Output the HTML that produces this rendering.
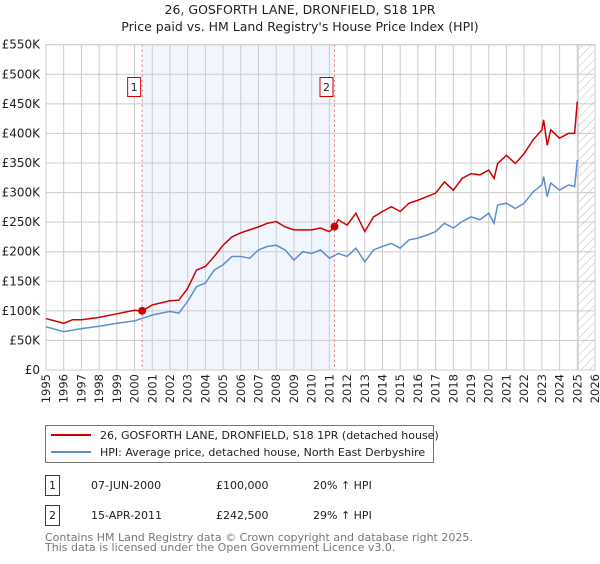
<!DOCTYPE html>
<html><head><meta charset="utf-8">
<style>
body{margin:0;background:#fff;font-family:"DejaVu Sans","Liberation Sans",sans-serif;}
svg text{font-family:"DejaVu Sans","Liberation Sans",sans-serif;}
</style></head>
<body>
<svg width="600" height="560" viewBox="0 0 600 560" xmlns="http://www.w3.org/2000/svg">
<defs>
<pattern id="hatch" patternUnits="userSpaceOnUse" width="6" height="6" patternTransform="rotate(45)">
<line x1="0" y1="0" x2="0" y2="6" stroke="#bbb" stroke-width="1"/></pattern>
</defs>
<text x="300" y="14" text-anchor="middle" font-size="12.5" fill="#222">26, GOSFORTH LANE, DRONFIELD, S18 1PR</text>
<text x="300" y="31" text-anchor="middle" font-size="12.5" fill="#222">Price paid vs. HM Land Registry's House Price Index (HPI)</text>
<g id="plot"></g>
<g>
<rect x="45.5" y="425.5" width="388" height="37" fill="#fff" stroke="#777"/>
<line x1="51" y1="435" x2="91" y2="435" stroke="#cc0000" stroke-width="2"/>
<text x="100" y="439" font-size="11" fill="#222">26, GOSFORTH LANE, DRONFIELD, S18 1PR (detached house)</text>
<line x1="51" y1="452" x2="91" y2="452" stroke="#5b8fd0" stroke-width="2"/>
<text x="100" y="456" font-size="11" fill="#222">HPI: Average price, detached house, North East Derbyshire</text>
</g>
<g font-size="11" fill="#222">
<rect x="45.5" y="475.5" width="14" height="20" fill="#fff" stroke="#cc0000"/>
<text x="52.5" y="489" text-anchor="middle">1</text>
<text x="91" y="489">07-JUN-2000</text>
<text x="216" y="489">£100,000</text>
<text x="313" y="489">20% ↑ HPI</text>
<rect x="45.5" y="505.5" width="14" height="20" fill="#fff" stroke="#cc0000"/>
<text x="52.5" y="519" text-anchor="middle">2</text>
<text x="91" y="519">15-APR-2011</text>
<text x="216" y="519">£242,500</text>
<text x="313" y="519">29% ↑ HPI</text>
</g>
<text x="45" y="541" font-size="11" fill="#777">Contains HM Land Registry data © Crown copyright and database right 2025.</text>
<text x="45" y="551" font-size="11" fill="#777">This data is licensed under the Open Government Licence v3.0.</text>
</svg>
<script>
const yTicks=[0,50,100,150,200,250,300,350,400,450,500,550];
const yTickLabels=["£0","£50K","£100K","£150K","£200K","£250K","£300K","£350K","£400K","£450K","£500K","£550K"];
const years=[1995,1996,1997,1998,1999,2000,2001,2002,2003,2004,2005,2006,2007,2008,2009,2010,2011,2012,2013,2014,2015,2016,2017,2018,2019,2020,2021,2022,2023,2024,2025,2026];
const propDates=[1995,1996,1996.5,1997,1998,1999,2000,2000.43,2001,2002,2002.5,2003,2003.5,2004,2004.5,2005,2005.5,2006,2007,2007.5,2008,2008.5,2009,2009.5,2010,2010.5,2011,2011.29,2011.5,2012,2012.5,2013,2013.5,2014,2014.5,2015,2015.5,2016,2016.5,2017,2017.5,2018,2018.5,2019,2019.5,2020,2020.3,2020.5,2021,2021.5,2022,2022.5,2023,2023.1,2023.3,2023.5,2024,2024.5,2024.85,2025];
const propValues=[87,79,85,85,89,95,101,100,110,117,118,138,169,175,192,211,225,232,242,248,251,242,237,237,237,240,234,242.5,254,245,265,234,259,268,276,268,282,287,293,299,318,304,324,332,330,338,324,349,363,349,366,389,406,423,380,406,392,400,400,454];
const hpiDates=[1995,1996,1997,1998,1999,2000,2001,2002,2002.5,2003,2003.5,2004,2004.5,2005,2005.5,2006,2006.5,2007,2007.5,2008,2008.5,2009,2009.5,2010,2010.5,2011,2011.5,2012,2012.5,2013,2013.5,2014,2014.5,2015,2015.5,2016,2016.5,2017,2017.5,2018,2018.5,2019,2019.5,2020,2020.3,2020.5,2021,2021.5,2022,2022.5,2023,2023.1,2023.3,2023.5,2024,2024.5,2024.85,2025];
const hpiValues=[73,65,70,74,79,83,93,99,96,116,141,147,169,178,192,192,189,203,209,211,203,186,200,197,203,189,197,192,206,183,203,209,214,206,220,223,228,234,248,240,251,259,254,265,248,279,282,273,282,301,313,327,293,316,304,313,310,355];
const saleDates=[2000.43,2011.29];
const saleValues=[100,242.5];
const saleLabels=["1","2"];
const shadeRange=[2000.43,2011.29];
const forecastStart=2025.05;

const L=46,R=595,T=44.7,B=370;
const x=d=>L+(d-1995)*(R-L)/31;
const y=v=>B-v*(B-T)/550;
const NS="http://www.w3.org/2000/svg";
const g=document.getElementById('plot');
function mk(tag,attrs,parent){const e=document.createElementNS(NS,tag);for(const k in attrs)e.setAttribute(k,attrs[k]);(parent||g).appendChild(e);return e;}

const sh=mk('rect',{x:x(shadeRange[0]),y:T,width:x(shadeRange[1])-x(shadeRange[0]),height:B-T,fill:'#eef3fc',opacity:0.8});


years.forEach(yr=>{
  const l=mk('line',{x1:x(yr),x2:x(yr),y1:T,y2:B,stroke:'#ccc','stroke-width':1});
  
  
  const t=mk('text',{x:0,y:0,transform:`translate(${x(yr)+4},${B+4}) rotate(-90)`,'text-anchor':'end','font-size':'11.5',fill:'#222'});
  t.textContent=yr;
  
  
});
yTicks.forEach((v,i)=>{
  const l=mk('line',{x1:L,x2:R,y1:y(v),y2:y(v),stroke:'#ccc','stroke-width':1});
  
  
  const t=mk('text',{x:L-6,y:y(v)+4,'text-anchor':'end','font-size':'12',fill:'#222'});
  t.textContent=yTickLabels[i];
  
  
});
const hz=mk('rect',{x:x(forecastStart),y:T,width:R-x(forecastStart),height:B-T,fill:'url(#hatch)',stroke:'#ccc'});


saleDates.forEach((d,i)=>{
  const l=mk('line',{x1:x(d),x2:x(d),y1:T,y2:B,stroke:'#f07070','stroke-width':1,'stroke-dasharray':'2,3'});
  
  
  const r=mk('rect',{x:x(d)-14.5,y:77.5,width:13,height:19,fill:'#fff',stroke:'#cc0000'});
  
  
  const t=mk('text',{x:x(d)-8,y:91,'text-anchor':'middle','font-size':'11',fill:'#222'});
  t.textContent=saleLabels[i];
  
  
});
const ax=mk('rect',{x:L,y:T,width:R-L,height:B-T,fill:'none',stroke:'#ccc'});


const hp=mk('polyline',{points:hpiDates.map((d,i)=>x(d)+','+y(hpiValues[i])).join(' '),fill:'none',stroke:'#5b8fd0','stroke-width':1.5});


const pp=mk('polyline',{points:propDates.map((d,i)=>x(d)+','+y(propValues[i])).join(' '),fill:'none',stroke:'#cc0000','stroke-width':1.5});


saleDates.forEach((d,i)=>{
  const c=mk('circle',{cx:x(d),cy:y(saleValues[i]),r:4,fill:'#cc0000'});
  
  
});
</script>
</body></html>
